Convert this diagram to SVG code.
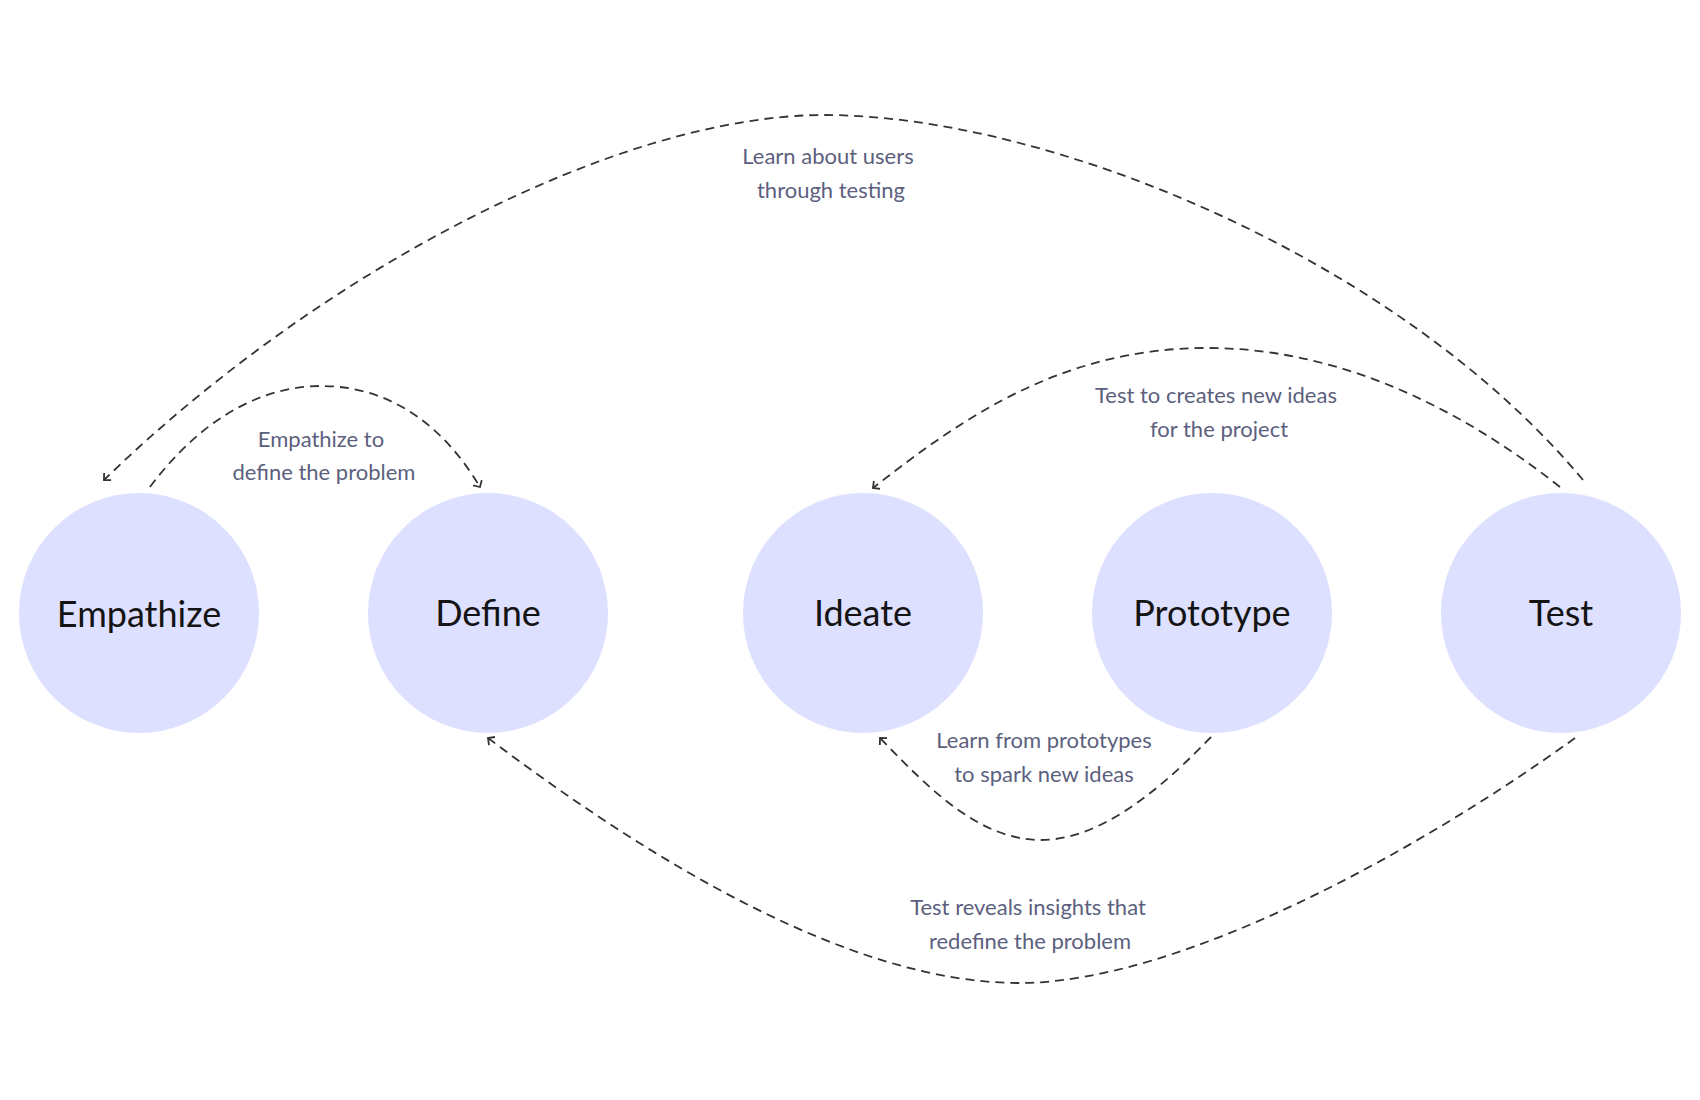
<svg xmlns="http://www.w3.org/2000/svg" width="1700" height="1100" viewBox="0 0 1700 1100">
<style>
.node circle{fill:#dee0ff;stroke:none}
.node text{font-family:Lato,"Open Sans","Liberation Sans",sans-serif;font-size:36px;fill:#141414;text-anchor:middle}
.edge{fill:none;stroke:#333;stroke-width:1.8;stroke-dasharray:9 6}
.lbl{font-family:Lato,"Open Sans","Liberation Sans",sans-serif;font-size:22px;fill:#5c5f7e;text-anchor:middle}
</style>
<defs>
<marker id="arr" viewBox="0 0 12 12" refX="10" refY="6" markerWidth="12" markerHeight="12" markerUnits="userSpaceOnUse" orient="auto">
<path d="M5,1 L10,6 L5,11" fill="none" stroke="#333" stroke-width="1.8"/>
</marker>
</defs>
<rect width="1700" height="1100" fill="#fff"/>
<g id="connectors">
<path class="edge" d="M1583,480 C1400,260 1050,115 824,115 C620,115 320,270 104,480" marker-end="url(#arr)"/>
<path class="edge" d="M150,487 C200,420 260,386 321,386 C385,386 440,420 480,487" marker-end="url(#arr)"/>
<path class="edge" d="M1560,487 C1450,400 1330,348 1207,348 C1060,348 960,420 873,488" marker-end="url(#arr)"/>
<path class="edge" d="M1211,737 C1160,790 1100,840 1041,840 C980,840 930,790 880,738" marker-end="url(#arr)"/>
<path class="edge" d="M1575,738 C1420,850 1180,983 1019,983 C850,983 650,860 488,738" marker-end="url(#arr)"/>
</g>
<g id="labels">
<text class="lbl" x="828" y="164">Learn about users</text>
<text class="lbl" x="831" y="198">through testing</text>
<text class="lbl" x="321" y="447">Empathize to</text>
<text class="lbl" x="324" y="480">define the problem</text>
<text class="lbl" x="1216" y="403">Test to creates new ideas</text>
<text class="lbl" x="1219" y="437">for the project</text>
<text class="lbl" x="1044" y="748">Learn from prototypes</text>
<text class="lbl" x="1044" y="782">to spark new ideas</text>
<text class="lbl" x="1028" y="915">Test reveals insights that</text>
<text class="lbl" x="1030" y="949">redefine the problem</text>
</g>
<g id="node-empathize" class="node"><circle cx="139" cy="613" r="120"/><text x="139" y="627">Empathize</text></g>
<g id="node-define" class="node"><circle cx="488" cy="613" r="120"/><text x="488" y="626">Define</text></g>
<g id="node-ideate" class="node"><circle cx="863" cy="613" r="120"/><text x="863" y="626">Ideate</text></g>
<g id="node-prototype" class="node"><circle cx="1212" cy="613" r="120"/><text x="1212" y="626">Prototype</text></g>
<g id="node-test" class="node"><circle cx="1561" cy="613" r="120"/><text x="1561" y="626">Test</text></g>
</svg>
